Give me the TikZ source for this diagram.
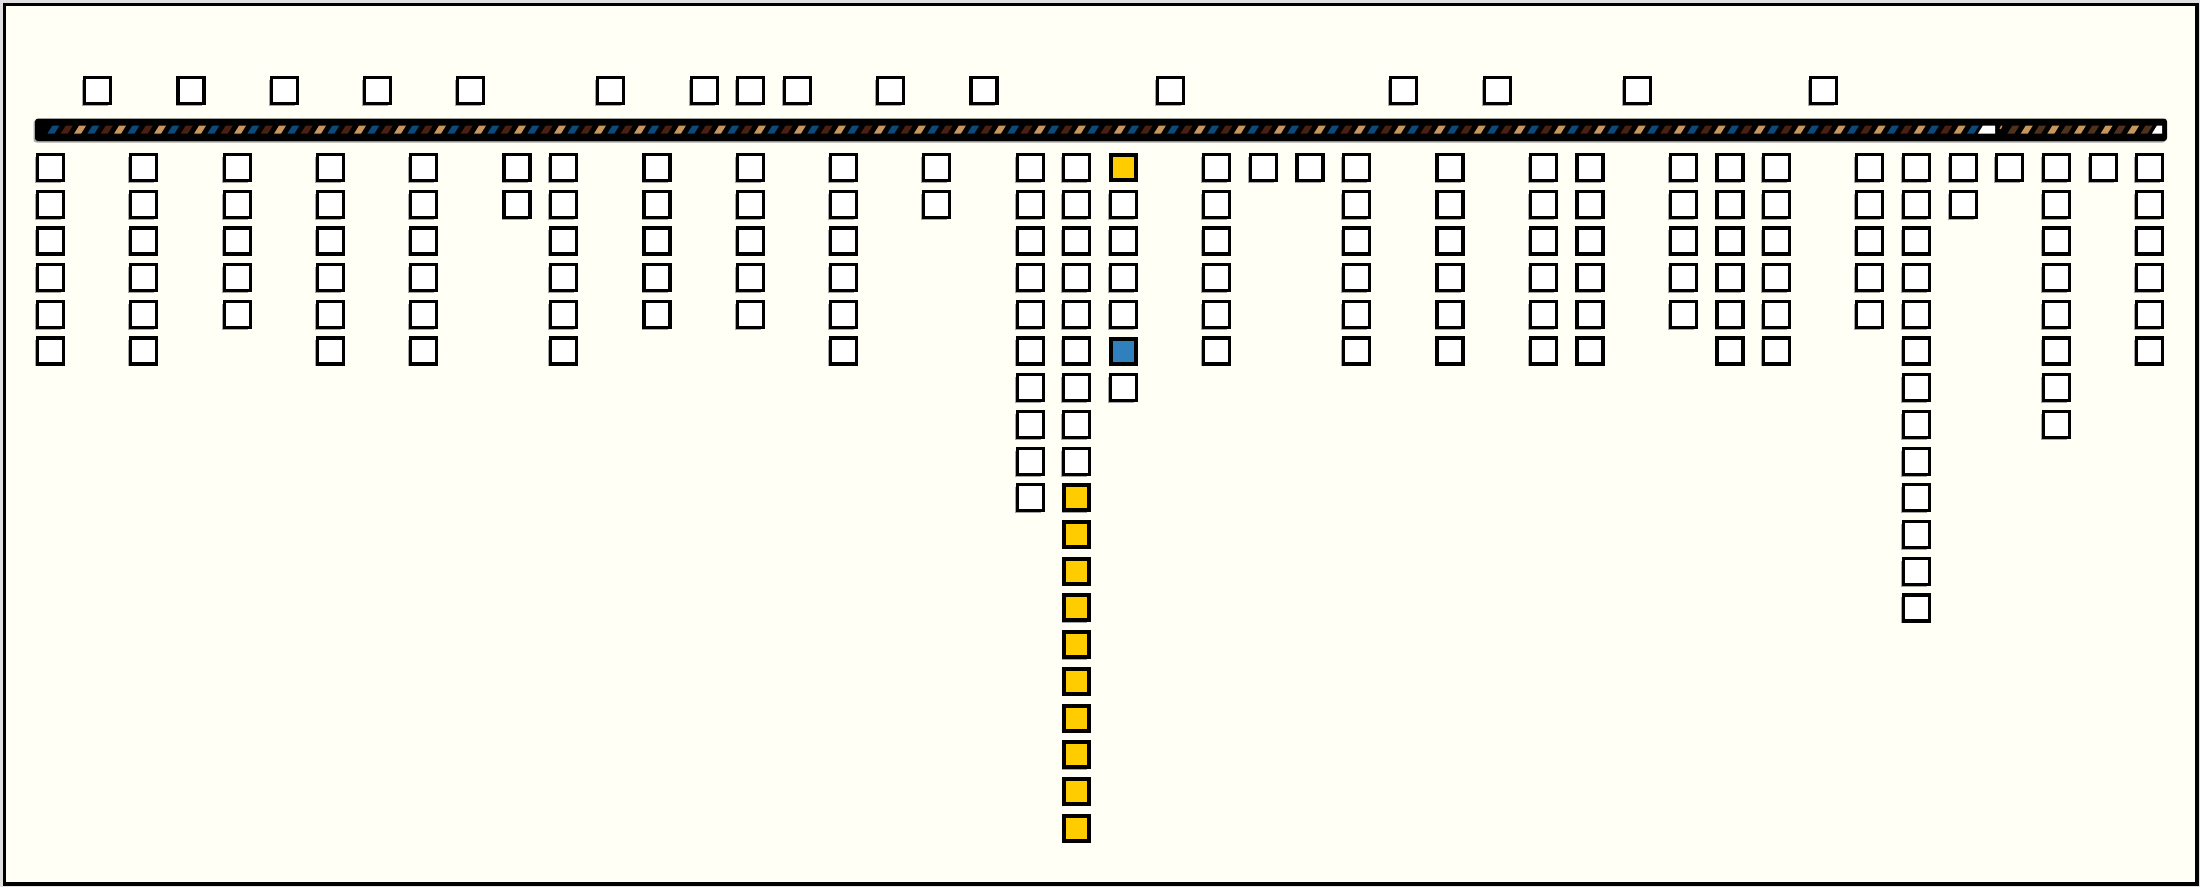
\documentclass[tikz,border=0pt]{standalone}
\usetikzlibrary{shadows}
\definecolor{cream}{RGB}{255,255,246}
\definecolor{sblue}{RGB}{12,74,124}
\definecolor{sbrown}{RGB}{74,32,18}
\definecolor{stan}{RGB}{200,150,92}
\definecolor{sbrowntwo}{RGB}{80,50,28}
\definecolor{boxyellow}{RGB}{255,204,0}
\definecolor{boxblue}{RGB}{48,128,190}
\begin{document}
\begin{tikzpicture}[x=1pt,y=-1pt,
  cell/.style={draw=black, line width=3.2pt, fill=white, minimum width=26pt, minimum height=26pt,
    inner sep=0pt, outer sep=0pt,
    drop shadow={shadow xshift=-2.4pt, shadow yshift=-2.4pt, fill=black!35, opacity=1}},
  hot/.style={cell, fill=boxyellow, line width=4pt, minimum width=25pt, minimum height=25pt},
  cool/.style={cell, fill=boxblue, line width=4pt, minimum width=25pt, minimum height=25pt},
  barstyle/.style={fill=black, rounded corners=3pt, minimum width=2132pt, minimum height=22.5pt,
    inner sep=0pt, drop shadow={shadow xshift=-1.5pt, shadow yshift=-1.5pt, fill=black!35, opacity=1}}]
\useasboundingbox (0,0) rectangle (2200,887);
\fill[black!12] (0,0) rectangle (2200,887);
\draw[line width=3.8pt, fill=cream] (4.5,4.5) rectangle (2197.2,883.6);
% bar
\node[barstyle] (bar) at (1101,129.8) {};
\foreach \i in {0,3,...,144} \fill[sblue] ({47.5+13.33*\i},133.5) -- ++(7,0) -- ++(5,-8) -- ++(-7,0) -- cycle;
\foreach \i in {1,4,...,142} \fill[sbrown] ({47.5+13.33*\i},133.5) -- ++(7,0) -- ++(5,-8) -- ++(-7,0) -- cycle;
\foreach \i in {2,5,...,143} \fill[stan] ({47.5+13.33*\i},133.5) -- ++(7,0) -- ++(5,-8) -- ++(-7,0) -- cycle;
\fill[white] (1978,133.5) -- (1995,133.5) -- (1995,125.5) -- (1983,125.5) -- cycle;
\fill[stan] (1999.5,129) -- (2001,129) -- (2002.5,125.5) -- (2001,125.5) -- cycle;
\foreach \i in {0,2,...,10} \fill[sbrowntwo] ({2007.5+13.3*\i},133.5) -- ++(7,0) -- ++(5,-8) -- ++(-7,0) -- cycle;
\foreach \i in {1,3,...,9} \fill[stan] ({2007.5+13.3*\i},133.5) -- ++(7,0) -- ++(5,-8) -- ++(-7,0) -- cycle;
\fill[white] (2152,133.5) -- (2162,133.5) -- (2162,125.5) -- (2157,125.5) -- cycle;
% top row
\foreach \k in {1,3,5,7,9,12,14,15,16,18,20,24,29,31,34,38}
  \node[cell] (t\k) at ({51+46.65*\k},90.5) {};
% bottom columns
\foreach \k/\n in {0/6,2/6,4/5,6/6,8/6,10/2,11/6,13/5,15/5,17/6,19/2,21/10,25/6,26/1,27/1,28/6,30/6,32/6,33/6,35/5,36/6,37/6,39/5,40/13,41/2,42/1,43/8,44/1,45/6}
  \foreach \j in {1,...,\n}
    \node[cell] (b\k-\j) at ({50.5+46.65*\k},{167.5+36.7*(\j-1)}) {};
\foreach \j in {1,...,9}
  \node[cell] (b22-\j) at ({50.5+46.65*22},{167.5+36.7*(\j-1)}) {};
\foreach \j in {10,...,19}
  \node[hot] (b22-\j) at ({50.5+46.65*22},{167.5+36.7*(\j-1)}) {};
\node[hot] (b23-1) at ({50.5+46.65*23},167.5) {};
\foreach \j in {2,3,4,5,7}
  \node[cell] (b23-\j) at ({50.5+46.65*23},{167.5+36.7*(\j-1)}) {};
\node[cool] (b23-6) at ({50.5+46.65*23},{167.5+36.7*5}) {};
\end{tikzpicture}
\end{document}
